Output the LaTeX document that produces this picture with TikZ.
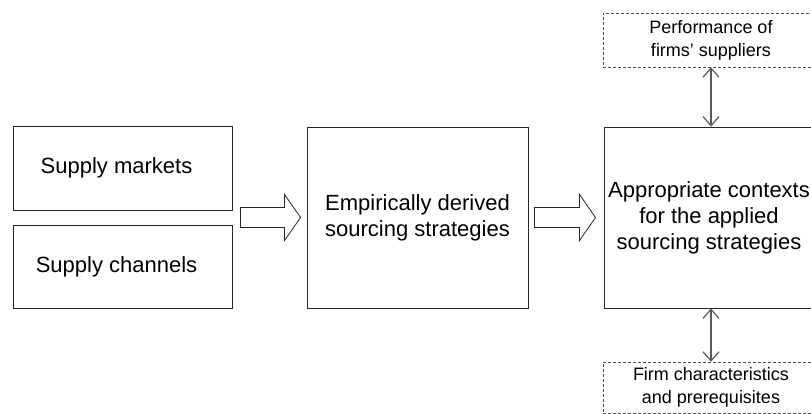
\documentclass[tikz,border=0pt]{standalone}
\usepackage{fontspec}
\setmainfont{Liberation Sans}
\usetikzlibrary{arrows.meta,calc}

\newcommand{\fatarrow}[2]{%
  \draw[fatline] ($(#1)+(0,-10)$) -- ($(#2)+(-16,-10)$) -- ($(#2)+(-16,-23)$) -- (#2)
    -- ($(#2)+(-16,23)$) -- ($(#2)+(-16,10)$) -- ($(#1)+(0,10)$) -- cycle;}

\begin{document}
\begin{tikzpicture}[x=1pt, y=-1pt,
  box/.style={draw=black!85, line width=0.9pt, align=center, inner sep=0pt,
    font=\fontsize{22}{26}\selectfont},
  factor/.style={draw=black!70, dashed, dash pattern=on 3pt off 2pt, line width=0.6pt,
    align=center, inner sep=0pt, font=\fontsize{18}{23}\selectfont},
  fatline/.style={draw=black!85, line width=0.8pt, line join=miter},
  link/.style={draw=black!65, line width=1.2pt, {Straight Barb[length=9pt,width=16pt]}-{Straight Barb[length=9pt,width=16pt]}}]
\clip (0,0) rectangle (811,414);
\node[box, minimum width=219pt, minimum height=84pt] (markets) at (122.5,168) {Supply markets\hspace{12pt}};
\node[box, minimum width=219pt, minimum height=83pt] (channels) at (122.5,266.5) {Supply channels\hspace{12pt}};
\node[box, minimum width=221pt, minimum height=181pt] (derived) at (417.5,217.5) {Empirically derived\\sourcing strategies};
\node[box, minimum width=210pt, minimum height=181pt] (contexts) at (709,217.5) {Appropriate contexts\\for the applied\\sourcing strategies};
\node[factor, minimum width=216pt, minimum height=54pt] (performance) at (711,40) {Performance of\\firms' suppliers};
\node[factor, minimum width=216pt, minimum height=51pt] (firm) at (711,387.5) {Firm characteristics\\and prerequisites};
\coordinate (in1) at ([xshift=8pt]markets.east |- derived.west);
\coordinate (out1) at ([xshift=-6pt]derived.west);
\coordinate (in2) at ([xshift=6pt]derived.east);
\coordinate (out2) at ([xshift=-8pt]contexts.west);
\fatarrow{in1}{out1}
\fatarrow{in2}{out2}
\draw[link] (performance.south) -- (performance.south |- contexts.north);
\draw[link] (firm.north |- contexts.south) -- (firm.north);
\end{tikzpicture}
\end{document}
